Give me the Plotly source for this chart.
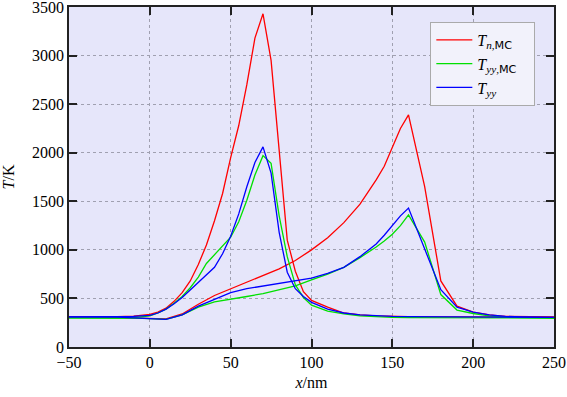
import plotly.graph_objects as go

# ---- data: snapshot 1 (pulse near x = 70 nm) ----
x1 = [-50, -40, -30, -20, -10, 0, 5, 10, 15, 20, 25, 30, 35, 40, 45, 50, 55, 60, 65, 70,
      75, 80, 85, 90, 95, 100, 110, 120, 130, 140, 150, 160, 180, 200, 220, 250]
tn1 = [310, 310, 308, 312, 318, 335, 360, 400, 470, 560, 680, 850, 1050, 1300, 1580, 1950, 2280, 2700, 3180, 3430,
       2950, 1980, 1100, 780, 570, 480, 410, 350, 330, 320, 315, 312, 310, 310, 308, 305]
tyymc1 = [300, 298, 297, 298, 302, 320, 350, 390, 450, 520, 610, 720, 860, 950, 1030, 1130, 1290, 1510, 1770, 1970,
          1890, 1350, 930, 640, 510, 430, 370, 340, 320, 310, 305, 302, 300, 300, 300, 300]
tyy1 = [310, 310, 309, 311, 316, 325, 350, 390, 445, 510, 590, 670, 745, 820, 960, 1140, 1370, 1650, 1900, 2060,
        1790, 1180, 770, 600, 520, 460, 390, 350, 330, 320, 315, 312, 310, 310, 308, 305]

# ---- data: snapshot 2 (pulse near x = 160 nm) ----
x2 = [-50, -40, -30, -20, -10, 0, 10, 20, 30, 40, 50, 60, 70, 80, 90, 100, 110, 120, 130, 140,
      145, 150, 155, 160, 170, 180, 190, 200, 210, 220, 230, 250]
tn2 = [310, 310, 306, 302, 299, 295, 290, 340, 440, 530, 600, 670, 740, 805, 890, 1000, 1125, 1280, 1470, 1720,
       1860, 2060, 2250, 2390, 1650, 680, 420, 360, 330, 316, 312, 310]
tyymc2 = [300, 300, 300, 300, 298, 292, 285, 330, 410, 465, 490, 520, 550, 590, 630, 690, 750, 820, 920, 1030,
          1090, 1160, 1250, 1360, 1080, 540, 380, 345, 320, 306, 300, 295]
tyy2 = [310, 310, 310, 308, 300, 292, 285, 330, 420, 490, 560, 600, 627, 660, 685, 710, 758, 820, 930, 1060,
        1150, 1250, 1350, 1430, 1000, 590, 410, 360, 330, 315, 310, 305]

MC = '<span style="font-family:DejaVu Sans">MC</span>'
names = ["<i>T</i><sub><i>n</i>," + MC + "</sub>&nbsp;&nbsp;&nbsp;",
         "<i>T</i><sub><i>yy</i>," + MC + "</sub>&nbsp;&nbsp;&nbsp;",
         "<i>T</i><sub><i>yy</i></sub>"]
colors = ["#ff0000", "#00e000", "#0000ff"]
series1 = [tn1, tyymc1, tyy1]
series2 = [tn2, tyymc2, tyy2]

fig = go.Figure()
for i in range(3):
    fig.add_trace(go.Scatter(x=x1, y=series1[i], mode="lines", name=names[i],
                             legendgroup=str(i), line=dict(color=colors[i], width=1.3)))
    fig.add_trace(go.Scatter(x=x2, y=series2[i], mode="lines", name=names[i],
                             legendgroup=str(i), showlegend=False,
                             line=dict(color=colors[i], width=1.3)))

font = "Liberation Serif"
axis_common = dict(
    showline=True, linecolor="#222", linewidth=1.5, mirror="ticks",
    ticks="inside", ticklen=8, tickwidth=1.5, tickcolor="#222",
    showgrid=True, gridcolor="#a0a0b0", griddash="dot", gridwidth=1,
    zeroline=False, automargin=False, ticklabeloverflow="allow",
    tickfont=dict(family=font, size=16, color="black"),
)

fig.update_layout(
    width=567, height=397,
    margin=dict(l=69, r=13, t=7, b=50, autoexpand=False),
    paper_bgcolor="white", plot_bgcolor="#e6e6fa",
    font=dict(family=font, size=16, color="black"),
    showlegend=True,
    legend=dict(x=0.745, y=0.956, xanchor="left", yanchor="top",
                bgcolor="#f2f2fb", bordercolor="#aaaaaa", borderwidth=1,
                font=dict(family=font, size=16), tracegroupgap=0,
                itemwidth=36),
    xaxis=dict(range=[-50, 250], tickvals=[-50, 0, 50, 100, 150, 200, 250],
               title=dict(text="<i>x</i>/nm", font=dict(family=font, size=16), standoff=7),
               **axis_common),
    yaxis=dict(range=[0, 3500], tickvals=[0, 500, 1000, 1500, 2000, 2500, 3000, 3500],
               title=dict(text="<i>T</i>/K", font=dict(family=font, size=16), standoff=16),
               **axis_common),
)

fig.write_html("out.html", config={"displayModeBar": False},
               post_script="document.body.style.margin='0';document.body.style.padding='0';")
